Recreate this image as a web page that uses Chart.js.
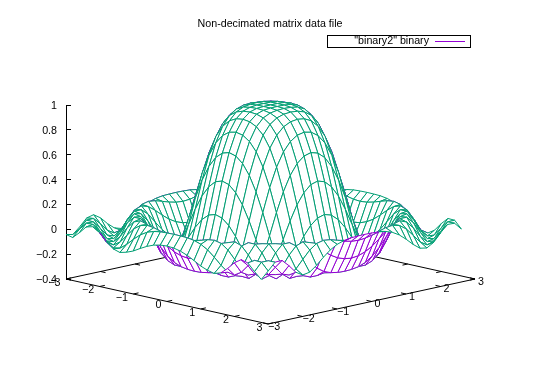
<!DOCTYPE html>
<html><head><meta charset="utf-8">
<style>html,body{margin:0;padding:0;background:#fff}canvas{display:block}</style>
<script src="https://cdn.jsdelivr.net/npm/chart.js@4"></script>
</head><body><canvas id="c" width="540" height="384"></canvas>
<script>
const titleText = "Non-decimated matrix data file";
const legendText = '"binary2" binary';
const gridCoords = [-3,-2.8,-2.6,-2.4,-2.2,-2,-1.8,-1.6,-1.4,-1.2,-1,-.8,-.6,-.4,-.2,0,.2,.4,.6,.8,1,1.2,1.4,1.6,1.8,2,2.2,2.4,2.6,2.8];
const axisTicks = [-3,-2,-1,0,1,2,3];
const row15 = [-.042,-.054,-.003,.055,.069,.032,-.026,-.073,-.09,-.076,-.054,-.022,.007,.029,.042,.046,.042,.029,.007,-.022,-.054,-.076,-.09,-.073,-.026,.032,.069,.055,-.003,-.054];
const row14 = [-.054,.002,.061,.063,.009,-.056,-.09,-.08,-.037,.016,.063,.096,.115,.124,.127,.128,.127,.124,.115,.096,.063,.016,-.037,-.08,-.09,-.056,.009,.063,.061,.002];
const row13 = [-.003,.061,.06,-.004,-.071,-.09,-.054,.011,.074,.115,.128,.121,.104,.086,.073,.068,.073,.086,.104,.121,.128,.115,.074,.011,-.054,-.09,-.071,-.004,.06,.061];
const row12 = [.055,.063,-.004,-.075,-.087,-.034,.046,.107,.128,.11,.068,.018,-.027,-.06,-.08,-.087,-.08,-.06,-.027,.018,.068,.11,.128,.107,.046,-.034,-.087,-.075,-.004,.063];
const row11 = [.069,.009,-.071,-.087,-.026,.063,.121,.121,.073,-.001,-.073,-.131,-.17,-.192,-.202,-.205,-.202,-.192,-.17,-.131,-.073,-.001,.073,.121,.121,.063,-.026,-.087,-.071,.009];
const row10 = [.032,-.056,-.09,-.034,.063,.124,.113,.042,-.053,-.137,-.192,-.215,-.215,-.205,-.194,-.189,-.194,-.205,-.215,-.215,-.192,-.137,-.053,.042,.113,.124,.063,-.034,-.09,-.056];
const row09 = [-.026,-.09,-.054,.046,.121,.113,.03,-.08,-.17,-.214,-.21,-.174,-.123,-.075,-.042,-.03,-.042,-.075,-.123,-.174,-.21,-.214,-.17,-.08,.03,.113,.121,.046,-.054,-.09];
const row08 = [-.073,-.08,.011,.107,.121,.042,-.08,-.179,-.217,-.189,-.114,-.018,.075,.15,.198,.215,.198,.15,.075,-.018,-.114,-.189,-.217,-.179,-.08,.042,.121,.107,.011,-.08];
const row07 = [-.09,-.037,.074,.128,.073,-.053,-.17,-.217,-.179,-.075,.061,.198,.316,.402,.455,.472,.455,.402,.316,.198,.061,-.075,-.179,-.217,-.17,-.053,.073,.128,.074,-.037];
const row06 = [-.076,.016,.115,.11,-.001,-.137,-.214,-.189,-.075,.09,.265,.42,.541,.625,.673,.689,.673,.625,.541,.42,.265,.09,-.075,-.189,-.214,-.137,-.001,.11,.115,.016];
const row05 = [-.054,.063,.128,.068,-.073,-.192,-.21,-.114,.061,.265,.455,.608,.719,.79,.829,.841,.829,.79,.719,.608,.455,.265,.061,-.114,-.21,-.192,-.073,.068,.128,.063];
const row04 = [-.022,.096,.121,.018,-.131,-.215,-.174,-.018,.198,.42,.608,.748,.841,.897,.925,.933,.925,.897,.841,.748,.608,.42,.198,-.018,-.174,-.215,-.131,.018,.121,.096];
const row03 = [.007,.115,.104,-.027,-.17,-.215,-.123,.075,.316,.541,.719,.841,.916,.956,.974,.979,.974,.956,.916,.841,.719,.541,.316,.075,-.123,-.215,-.17,-.027,.104,.115];
const row02 = [.029,.124,.086,-.06,-.192,-.205,-.075,.15,.402,.625,.79,.897,.956,.983,.993,.996,.993,.983,.956,.897,.79,.625,.402,.15,-.075,-.205,-.192,-.06,.086,.124];
const row01 = [.042,.127,.073,-.08,-.202,-.194,-.042,.198,.455,.673,.829,.925,.974,.993,.999,1,.999,.993,.974,.925,.829,.673,.455,.198,-.042,-.194,-.202,-.08,.073,.127];
const row00 = [.046,.128,.068,-.087,-.205,-.189,-.03,.215,.472,.689,.841,.933,.979,.996,1,1,1,.996,.979,.933,.841,.689,.472,.215,-.03,-.189,-.205,-.087,.068,.128];
const zRows = [row15,row14,row13,row12,row11,row10,row09,row08,row07,row06,row05,row04,row03,row02,row01,row00,row01,row02,row03,row04,row05,row06,row07,row08,row09,row10,row11,row12,row13,row14];

const GREEN = "#009e73", PURPLE = "#9400d3", FONT = "10.7px 'Liberation Sans', Arial, sans-serif";
// oblique view of the base plane, as fractions of the horizontal scale and z units on the vertical scale
const hPos = (x, y) => ((x + 3) * 33.67 + (y + 3) * 34.5) / 409;
const vPos = (x, y, z) => z - 0.0603 * (x - y);
const pt = (x, y, z) => ({ x: hPos(x, y), y: vPos(x, y, z) });
const BASE = -0.4;

const datasets = [];
const line = (points, order) => datasets.push({ data: points, showLine: true, pointRadius: 0, borderColor: "#000", borderWidth: 1, order, clip: false, tension: 0 });
const base = (x, y) => pt(x, y, BASE);
line([base(-3,-3), base(3,-3), base(3,3), base(-3,3), base(-3,-3)], 5000);
const TL = 0.15;
axisTicks.forEach(t => {
  line([base(t,-3), base(t,-3 + TL)], 5000);
  line([base(t,3), base(t,3 - TL)], 5000);
  line([base(-3,t), base(-3 + TL,t)], 5000);
  line([base(3,t), base(3 - TL,t)], 5000);
});
const n = gridCoords.length;
for (let j = 0; j < n - 1; j++) for (let i = 0; i < n - 1; i++) {
  const x0 = gridCoords[i], x1 = gridCoords[i+1], y0 = gridCoords[j], y1 = gridCoords[j+1];
  const q = [pt(x0,y0,zRows[j][i]), pt(x1,y0,zRows[j][i+1]), pt(x1,y1,zRows[j+1][i+1]), pt(x0,y1,zRows[j+1][i])];
  q.push(q[0]);
  // facing: signed area of the projected cell decides upper or under side
  let area = 0;
  for (let k = 0; k < 4; k++) area += (q[k].x * q[k+1].y - q[k+1].x * q[k].y);
  datasets.push({ data: q, showLine: true, pointRadius: 0, borderWidth: 1, borderColor: area > 0 ? GREEN : PURPLE,
    order: 100 - (i - j), clip: false, tension: 0, meshCell: true });
}

const meshFill = {
  id: "meshFill",
  beforeDatasetDraw(chart, args) {
    const ds = chart.data.datasets[args.index];
    if (!ds.meshCell) return;
    const c = chart.ctx, p = args.meta.data;
    c.save(); c.beginPath(); c.moveTo(p[0].x, p[0].y);
    for (let k = 1; k < p.length; k++) c.lineTo(p[k].x, p[k].y);
    c.closePath(); c.fillStyle = "#fff"; c.fill(); c.restore();
  },
  afterDraw(chart) {
    const c = chart.ctx, sx = chart.scales.x, sy = chart.scales.y;
    const minus = t => String(t).replace("-", "\u2212");
    c.save(); c.font = FONT; c.fillStyle = "#000"; c.textBaseline = "middle";
    axisTicks.forEach(t => {
      const a = base(t, -3);
      c.textAlign = "right";
      c.fillText(minus(t), sx.getPixelForValue(a.x) - 5.5, sy.getPixelForValue(a.y) + 4);
      const b = base(3, t);
      c.textAlign = "center";
      c.fillText(minus(t), sx.getPixelForValue(b.x) + 6, sy.getPixelForValue(b.y) + 3);
    });
    c.strokeStyle = "#000"; c.lineWidth = 1;
    c.strokeRect(327.5, 35.5, 143, 12);
    c.textAlign = "right";
    c.fillText(legendText, 429, 41.5);
    c.strokeStyle = PURPLE; c.beginPath(); c.moveTo(435, 41.5); c.lineTo(465, 41.5); c.stroke();
    c.restore();
  }
};

new Chart(document.getElementById("c"), {
  type: "scatter",
  data: { datasets },
  plugins: [meshFill],
  options: {
    responsive: false, animation: false, events: [],
    layout: { padding: { left: 0, right: 0, top: 0, bottom: 105 } },
    plugins: {
      legend: { display: false }, tooltip: { enabled: false },
      title: { display: true, text: titleText, color: "#000", font: { family: "'Liberation Sans', Arial, sans-serif", size: 10.7, weight: "normal" }, padding: { top: 18, bottom: 74.16 } }
    },
    scales: {
      x: { type: "linear", min: 0, max: 474 / 409, display: false },
      y: {
        type: "linear", min: -0.4, max: 1, afterFit(s) { s.width = 66; },
        border: { display: true, color: "#000", width: 1 },
        grid: { drawOnChartArea: false, color: "#000", tickLength: -5, tickWidth: 1 },
        ticks: { stepSize: 0.2, color: "#000", padding: 14, labelOffset: 1, font: { family: "'Liberation Sans', Arial, sans-serif", size: 10.7 },
          callback: v => String(Math.round(v * 10) / 10).replace("-", "\u2212") }
      }
    }
  }
});
</script></body></html>
